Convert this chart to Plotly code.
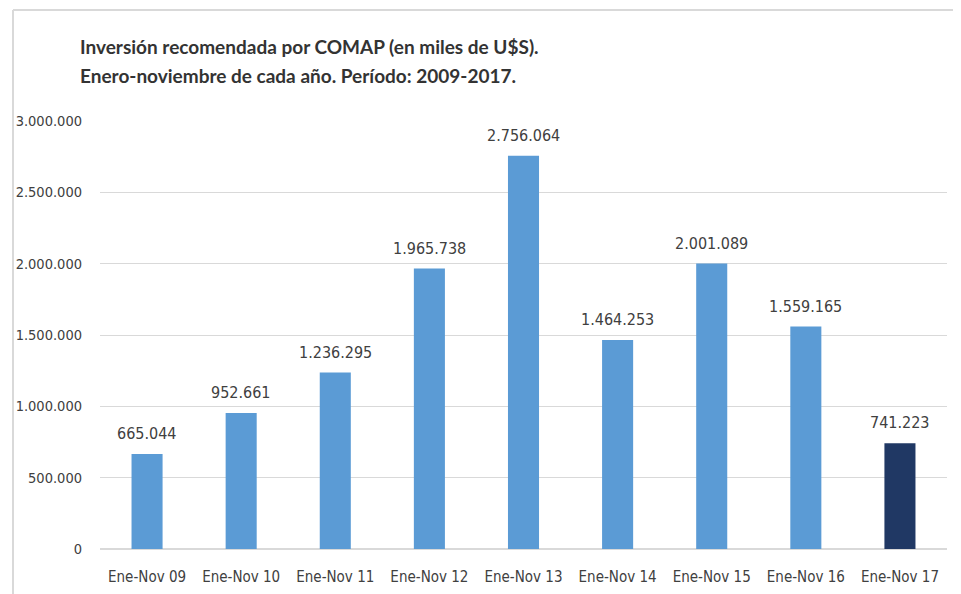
import plotly.graph_objects as go

categorias = ["Ene-Nov 09", "Ene-Nov 10", "Ene-Nov 11", "Ene-Nov 12", "Ene-Nov 13",
              "Ene-Nov 14", "Ene-Nov 15", "Ene-Nov 16", "Ene-Nov 17"]
inversion = [665044, 952661, 1236295, 1965738, 2756064, 1464253, 2001089, 1559165, 741223]
colores = ["#5B9BD5"] * 8 + ["#203864"]
titulo = ["Inversión recomendada por COMAP (en miles de U$S).",
          "Enero-noviembre de cada año. Período: 2009-2017."]

etiquetas = [f"{v:,}".replace(",", ".") for v in inversion]

fuente = "Liberation Sans Narrow, DejaVu Sans Condensed, Arial Narrow, sans-serif"

# el navegador deja 8px de margen en el body
W, H = 953, 586
L, R, T, B = 92, 14, 113, 45
pw, ph = W - L - R, H - T - B

fig = go.Figure(go.Bar(
    x=categorias,
    y=inversion,
    marker=dict(color=colores, line=dict(width=0)),
    width=0.33,
))

anotaciones = []
for c, v, t in zip(categorias, inversion, etiquetas):
    anotaciones.append(dict(x=c, y=v, text=t, showarrow=False, yanchor="bottom", yshift=9,
                            font=dict(size=16, color="#404040", family=fuente)))
for i, linea in enumerate(titulo):
    anotaciones.append(dict(xref="paper", yref="paper", x=(70 - L) / pw,
                            y=1 + (T - 38 - 30 * i) / ph, xanchor="left",
                            yanchor="middle", showarrow=False, text=f"<b>{linea}</b>",
                            font=dict(size=19, color="#333333", family="Lato, sans-serif")))

fig.update_layout(
    width=W, height=H,
    margin=dict(l=L, r=R, t=T, b=B),
    paper_bgcolor="white", plot_bgcolor="white",
    separators=",.",
    showlegend=False,
    font=dict(family=fuente, color="#595959"),
    annotations=anotaciones,
    xaxis=dict(tickfont=dict(size=15, color="#404040"), showline=False, ticks="",
               ticklabelstandoff=17, automargin=False),
    yaxis=dict(range=[0, 3000000], dtick=500000, tickformat=",d",
               gridcolor="#D9D9D9", zeroline=True, zerolinecolor="#D9D9D9",
               tickfont=dict(size=14.5, color="#404040"), ticks="", ticklabelstandoff=17,
               automargin=False),
    shapes=[
        dict(type="line", xref="paper", yref="paper", x0=(5 - L) / pw, x1=1 + R / pw,
             y0=1 + (T - 2) / ph, y1=1 + (T - 2) / ph, line=dict(color="#D9D9D9", width=2)),
        dict(type="line", xref="paper", yref="paper", x0=(5 - L) / pw, x1=(5 - L) / pw,
             y0=1 + (T - 2) / ph, y1=-B / ph, line=dict(color="#D9D9D9", width=2)),
    ],
)

fig.write_html("out.html")
